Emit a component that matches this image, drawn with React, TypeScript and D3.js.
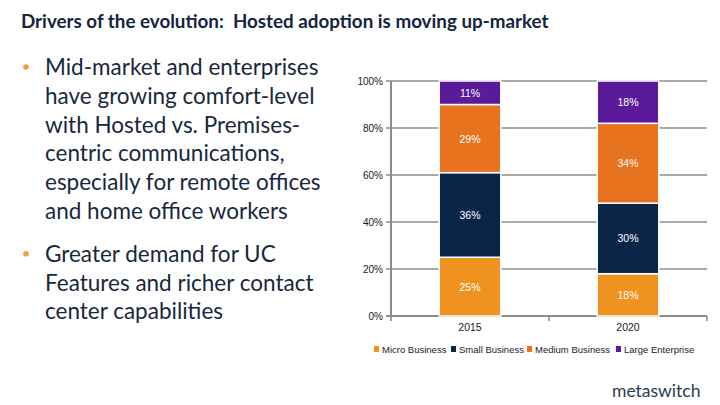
import React, { useEffect, useRef } from 'react';
import * as d3 from 'd3';

const years = ['2015', '2020'];
const segments = ['Micro Business', 'Small Business', 'Medium Business', 'Large Enterprise'];
const micro = [25, 18];
const small = [36, 30];
const medium = [29, 34];
const large = [11, 18];
const yTicks = [0, 20, 40, 60, 80, 100];
const colors = ['#F0921F', '#0B2548', '#E8731F', '#5B1A99'];

const bullets = [
  ['Mid-market and enterprises', 'have growing comfort-level', 'with Hosted vs. Premises-', 'centric communications,', 'especially for remote offices', 'and home office workers'],
  ['Greater demand for UC', 'Features and richer contact', 'center capabilities'],
];

const App: React.FC = () => {
  const svgRef = useRef<SVGSVGElement>(null);

  useEffect(() => {
    if (!svgRef.current) return;
    const svg = d3.select(svgRef.current);
    svg.selectAll('*').remove();

    // title
    svg
      .append('text')
      .attr('x', 21)
      .attr('y', 28)
      .attr('font-family', 'Lato, sans-serif')
      .attr('font-weight', 'bold')
      .attr('font-size', 18.8)
      .attr('fill', '#14253D')
      .style('white-space', 'pre')
      .text('Drivers of the evolution:  Hosted adoption is moving up-market');

    // bullets
    const textG = svg.append('g').attr('font-family', 'Lato, sans-serif').attr('fill', '#17273D');
    let y = 75;
    bullets.forEach((lines, bi) => {
      if (bi > 0) y += 14;
      textG
        .append('circle')
        .attr('cx', 26)
        .attr('cy', y - 8)
        .attr('r', 2.8)
        .attr('fill', '#E8A048');
      lines.forEach((line) => {
        textG.append('text').attr('x', 45).attr('y', y).attr('font-size', 22.5).text(line);
        y += 28.8;
      });
    });

    // chart
    const left = 391;
    const right = 707;
    const top = 81;
    const bottom = 316;

    const x = d3.scaleBand<string>().domain(years).range([left, right]).paddingInner(0.61).paddingOuter(0.305);
    const yS = d3.scaleLinear().domain([0, 100]).range([bottom, top]).clamp(true);

    const rows = years.map((yr, i) => ({
      year: yr,
      'Micro Business': micro[i],
      'Small Business': small[i],
      'Medium Business': medium[i],
      'Large Enterprise': large[i],
    }));
    const stack = d3.stack<any>().keys(segments)(rows);

    const g = svg.append('g');

    // gridlines
    g.selectAll('line.grid')
      .data(yTicks)
      .enter()
      .append('line')
      .attr('x1', left - 5)
      .attr('x2', right)
      .attr('y1', (d) => yS(d))
      .attr('y2', (d) => yS(d))
      .attr('stroke', '#8C8C8C')
      .attr('stroke-width', (d) => (d === 0 ? 2 : 1.6));

    g.append('line')
      .attr('x1', left)
      .attr('x2', left)
      .attr('y1', top)
      .attr('y2', bottom)
      .attr('stroke', '#8C8C8C')
      .attr('stroke-width', 2);

    // x ticks
    const xTicks = [left, (left + right) / 2, right];
    g.selectAll('line.xt')
      .data(xTicks)
      .enter()
      .append('line')
      .attr('x1', (d) => d)
      .attr('x2', (d) => d)
      .attr('y1', bottom)
      .attr('y2', bottom + 5)
      .attr('stroke', '#8C8C8C')
      .attr('stroke-width', 1.6);

    g.selectAll('text.yl')
      .data(yTicks)
      .enter()
      .append('text')
      .attr('x', left - 8)
      .attr('y', (d) => yS(d) + 3.5)
      .attr('text-anchor', 'end')
      .attr('font-family', 'Liberation Sans, Arial, sans-serif')
      .attr('font-size', 10)
      .attr('fill', '#1A1A1A')
      .text((d) => `${d}%`);

    g.selectAll('text.xl')
      .data(years)
      .enter()
      .append('text')
      .attr('x', (d) => x(d)! + x.bandwidth() / 2)
      .attr('y', bottom + 15)
      .attr('text-anchor', 'middle')
      .attr('font-family', 'Liberation Sans, Arial, sans-serif')
      .attr('font-size', 10.5)
      .attr('fill', '#1A1A1A')
      .text((d) => d);

    stack.forEach((layer, li) => {
      const lg = g.append('g');
      lg.selectAll('rect')
        .data(layer)
        .enter()
        .append('rect')
        .attr('x', (d) => x(d.data.year)!)
        .attr('width', x.bandwidth())
        .attr('y', (d) => yS(d[1]))
        .attr('height', (d) => yS(d[0]) - yS(d[1]))
        .attr('fill', colors[li])
        .attr('stroke', '#FFFFFF')
        .attr('stroke-width', 1.5);
      lg.selectAll('text')
        .data(layer)
        .enter()
        .append('text')
        .attr('x', (d) => x(d.data.year)! + x.bandwidth() / 2)
        .attr('y', (d) => (yS(d[0]) + yS(d[1])) / 2 + 4)
        .attr('text-anchor', 'middle')
        .attr('font-family', 'Liberation Sans, Arial, sans-serif')
        .attr('font-size', 10.5)
        .attr('fill', '#FFFFFF')
        .text((d) => `${d[1] - d[0]}%`);
    });

    // legend
    const legendX = [374, 451, 527, 616];
    const leg = svg.append('g');
    segments.forEach((s, i) => {
      leg.append('rect')
        .attr('x', legendX[i])
        .attr('y', 346)
        .attr('width', 5)
        .attr('height', 6)
        .attr('fill', colors[i]);
      leg.append('text')
        .attr('x', legendX[i] + 8)
        .attr('y', 352.5)
        .attr('font-family', 'Liberation Sans, Arial, sans-serif')
        .attr('font-size', 9.5)
        .attr('fill', '#1A1A1A')
        .text(s);
    });

    // logo
    svg
      .append('text')
      .attr('x', 612)
      .attr('y', 397)
      .attr('font-family', 'Lato, sans-serif')
      .attr('font-size', 17.5)
      .attr('fill', '#2B3A50')
      .text('metaswitch');
  }, []);

  return (
    <svg
      ref={svgRef}
      width={720}
      height={405}
      style={{ position: 'absolute', left: 0, top: 0, background: '#FFFFFF' }}
    />
  );
};

export default App;
